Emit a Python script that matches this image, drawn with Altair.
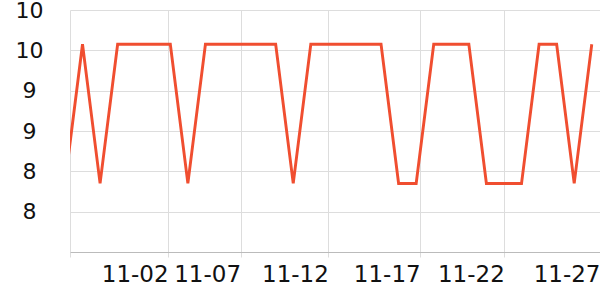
import altair as alt
import pandas as pd

dates = [
    "2023-10-28", "2023-10-29", "2023-10-30", "2023-10-31",
    "2023-11-01", "2023-11-02", "2023-11-03", "2023-11-04", "2023-11-05",
    "2023-11-06", "2023-11-07", "2023-11-08", "2023-11-09", "2023-11-10",
    "2023-11-11", "2023-11-12", "2023-11-13", "2023-11-14", "2023-11-15",
    "2023-11-16", "2023-11-17", "2023-11-18", "2023-11-19", "2023-11-20",
    "2023-11-21", "2023-11-22", "2023-11-23", "2023-11-24", "2023-11-25",
    "2023-11-26", "2023-11-27",
]
values = [
    8.28, 9.66, 8.28, 9.66, 9.66, 9.66, 9.66, 8.28, 9.66, 9.66,
    9.66, 9.66, 9.66, 8.28, 9.66, 9.66, 9.66, 9.66, 9.66, 8.28,
    8.28, 9.66, 9.66, 9.66, 8.28, 8.28, 8.28, 9.66, 9.66, 8.28,
    9.66,
]
y_ticks = [8.0, 8.4, 8.8, 9.2, 9.6, 10.0]

df = pd.DataFrame({"date": dates, "value": values})

x_start = alt.DateTime(year=2023, month=10, date=28, hours=6, minutes=54, utc=True)
x_end = alt.DateTime(year=2023, month=11, date=27, hours=11, minutes=15, utc=True)
x_ticks = [
    x_start,
    alt.DateTime(year=2023, month=11, date=2, hours=21, utc=True),
    alt.DateTime(year=2023, month=11, date=7, hours=0, utc=True),
    alt.DateTime(year=2023, month=11, date=12, hours=0, utc=True),
    alt.DateTime(year=2023, month=11, date=17, hours=5, minutes=30, utc=True),
    alt.DateTime(year=2023, month=11, date=22, hours=0, minutes=30, utc=True),
    x_end,
]

FONT = "DejaVu Sans"

chart = alt.Chart(df).mark_line(
    color="#f04e30", strokeWidth=2.9, clip=True
).encode(
    x=alt.X(
        "date:T",
        scale=alt.Scale(type="utc", domain=[x_start, x_end], nice=False),
        axis=alt.Axis(
            title=None,
            values=x_ticks,
            labelExpr="datum.value < utc(2023, 9, 29) ? '' : utcFormat(datum.value, '%m-%d')",
            labelAlign="right",
            labelBaseline="top",
            labelPadding=6,
            labelFontSize=23,
            labelFont=FONT,
            labelColor="#111111",
            labelOverlap=False,
            labelFlush=False,
            tickSize=5,
            tickColor="#dddddd",
            domainColor="#bbbbbb",
            gridColor="#dddddd",
            grid=True,
        ),
    ),
    y=alt.Y(
        "value:Q",
        scale=alt.Scale(domain=[7.6, 10.0], nice=False, zero=False),
        axis=alt.Axis(
            title=None,
            values=y_ticks,
            format=".0f",
            labelAlign="center",
            labelBaseline="middle",
            labelPadding=41,
            labelFontSize=22,
            labelFont=FONT,
            labelColor="#111111",
            labelOverlap=False,
            labelFlush=False,
            ticks=False,
            domain=False,
            gridColor="#dddddd",
            grid=True,
        ),
    ),
).properties(
    width=530,
    height=242,
    autosize=alt.AutoSizeParams(type="none"),
    padding={"left": 70, "top": 10, "right": 0, "bottom": 48},
).configure_view(strokeWidth=0)

chart.save("out.html", embed_options={"renderer": "svg", "actions": False})
